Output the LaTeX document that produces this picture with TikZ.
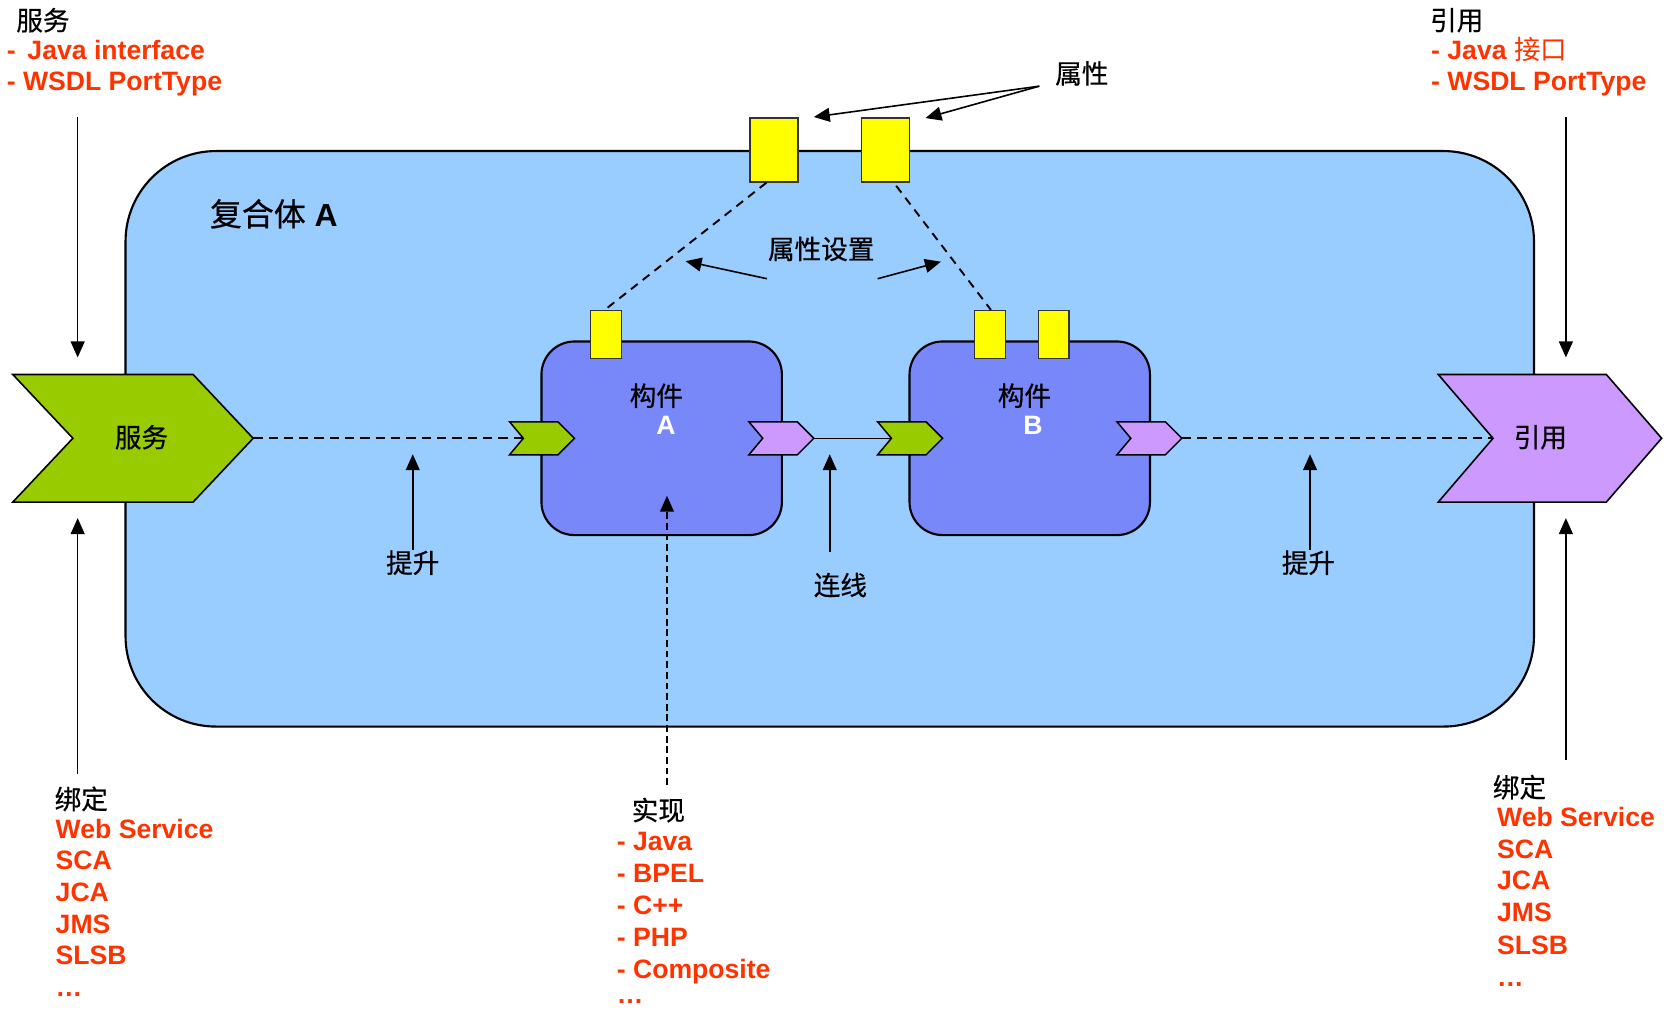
\documentclass[tikz,border=0pt]{standalone}
\usepackage{fontspec}
\setmainfont{Liberation Sans}
\newfontfamily\cjk[FakeBold=0.6]{Noto Sans CJK SC}
\newfontfamily\cjklight{Noto Sans CJK SC}
\usetikzlibrary{arrows.meta,calc}

\definecolor{compositefill}{HTML}{99CCFF}
\definecolor{servicegreen}{HTML}{99CC00}
\definecolor{refpurple}{HTML}{CC99FF}
\definecolor{componentblue}{HTML}{7888F8}
\definecolor{propyellow}{HTML}{FFFF00}
\definecolor{listred}{HTML}{FF3300}

\tikzset{
  port/.pic={
    \path[pic actions] (-31,-15.5) -- (14.5,-15.5) -- (30,0) -- (14.5,15.5)
      -- (-31,15.5) -- (-18,0) -- cycle;
    \coordinate (-tip) at (30,0);
    \coordinate (-notch) at (-18,0);
  },
  zh/.style={inner sep=0pt, font=\cjk\fontsize{12.5}{15}\selectfont},
  redline/.style={anchor=base west, inner sep=0pt, text=listred,
    font=\fontsize{12.5}{15}\selectfont\bfseries},
  arr/.style={line width=0.75pt, -{Triangle[length=7.5pt,width=6.5pt]}},
  chevron/.style={draw, line width=0.75pt},
  bigprop/.style={draw=black!80, line width=0.7pt, fill=propyellow,
    minimum width=22.5pt, minimum height=30pt, inner sep=0pt},
  smallprop/.style={draw=black!80, line width=0.7pt, fill=propyellow,
    minimum width=14.5pt, minimum height=22.5pt, inner sep=0pt},
  component/.style={draw, line width=1pt, fill=componentblue,
    rounded corners=15.5pt, minimum width=113pt, minimum height=91pt, inner sep=0pt},
  promote/.style={line width=1.1pt, dash pattern=on 4.4pt off 2.8pt},
  propset/.style={line width=0.9pt, dash pattern=on 4pt off 3pt},
}

\begin{document}
\begin{tikzpicture}[x=0.5pt, y=-0.5pt]
\useasboundingbox (0,0) rectangle (1568,948.5);

% composite
\node[draw, line width=1pt, fill=compositefill, rounded corners=42.5pt,
  minimum width=662pt, minimum height=270.5pt, inner sep=0pt] (composite) at (780,412.5) {};
\node[anchor=west, inner sep=0pt, font=\fontsize{15}{18}\selectfont] (compositelabel)
  at (197,201) {{\cjk 复合体} \textbf{A}};

% composite service and reference
\draw[chevron, fill=servicegreen] (12,352) -- (181.5,352) -- (238,412) coordinate (svcTip)
  -- (181.5,472) -- (12,472) -- (68.5,412) -- cycle;
\node[zh] (svclabel) at (133,411) {服务};
\draw[chevron, fill=refpurple] (1352,352) -- (1510,352) -- (1562,412)
  -- (1510,472) -- (1352,472) -- (1403.5,412) coordinate (refNotch) -- cycle;
\node[zh] (reflabel) at (1448,411) {引用};

% components
\node[component] (compA) at (622,412) {};
\node[component] (compB) at (968,412) {};
\node[zh] (compAtitle) at (617,372) {构件};
\node[inner sep=0pt, text=white, font=\fontsize{12.5}{15}\selectfont\bfseries] (compAname) at (626,400) {A};
\node[zh] (compBtitle) at (963,372) {构件};
\node[inner sep=0pt, text=white, font=\fontsize{12.5}{15}\selectfont\bfseries] (compBname) at (971,400) {B};

% component ports
\pic[draw, fill=servicegreen, line width=0.7pt] (pAin) at (510,412) {port};
\pic[draw, fill=refpurple, line width=0.7pt] (pAout) at (735,412) {port};
\pic[draw, fill=servicegreen, line width=0.7pt] (pBin) at (856,412) {port};
\pic[draw, fill=refpurple, line width=0.7pt] (pBout) at (1081,412) {port};

% properties
\node[bigprop] (propOne) at (727.5,141) {};
\node[bigprop] (propTwo) at (832.5,141) {};
\node[smallprop] (propA) at (569.5,314.5) {};
\node[smallprop] (propBone) at (930.5,314.5) {};
\node[smallprop] (propBtwo) at (990.5,314.5) {};

% promotes and wire
\draw[promote] (svcTip) -- (pAin-notch);
\draw[line width=0.7pt] (pAout-tip) -- (pBin-notch);
\draw[promote] (pBout-tip) -- (refNotch);

% property settings
\draw[propset] ($(propOne.south)+(-7,0)$) -- ($(propA.north)+(-1,0)$);
\draw[propset] ($(propTwo.south)+(10,3)$) -- ($(propBone.north)+(1,0)$);

% labels in the composite
\node[zh] (propsetlabel) at (772,234) {属性设置};
\coordinate (psL) at (721,262);
\coordinate (psLhead) at (644.5,245.5);
\coordinate (psR) at (825,262);
\coordinate (psRhead) at (884.5,246);
\draw[arr] (psL) -- (psLhead);
\draw[arr] (psR) -- (psRhead);

\node[zh] (proplabel) at (1017,69) {属性};
\coordinate (propFrom) at (977,81);
\coordinate (propHeadOne) at (765,110);
\coordinate (propHeadTwo) at (870,111);
\draw[arr] (propFrom) -- (propHeadOne);
\draw[arr] (propFrom) -- (propHeadTwo);

\node[zh] (promoteL) at (388,529) {提升};
\coordinate (promoteLhead) at (388,427);
\draw[arr] (promoteL.north) -- (promoteLhead);
\node[zh] (promoteR) at (1230,529) {提升};
\coordinate (promoteRhead) at (1231.5,427);
\draw[arr] (promoteR.north -| promoteRhead) -- (promoteRhead);

\node[zh] (wirelabel) at (790,550) {连线};
\coordinate (wireFoot) at (780,519);
\coordinate (wireHead) at (780,427);
\draw[arr] (wireFoot) -- (wireHead);

\coordinate (implFoot) at (627,738);
\coordinate (implHead) at (627,466);
\draw[arr, line width=0.7pt, dash pattern=on 3.2pt off 1.8pt] (implFoot) -- (implHead);

% outer arrows
\coordinate (svcTop) at (73,110);
\coordinate (svcTopHead) at (73,336);
\coordinate (svcBottom) at (73,728);
\coordinate (svcBottomHead) at (73,487);
\draw[arr] (svcTop) -- (svcTopHead);
\draw[arr] (svcBottom) -- (svcBottomHead);
\coordinate (refTop) at (1472,110);
\coordinate (refTopHead) at (1472,336);
\coordinate (refBottom) at (1472,714);
\coordinate (refBottomHead) at (1472,487);
\draw[arr] (refTop) -- (refTopHead);
\draw[arr] (refBottom) -- (refBottomHead);

% service interface
\node[zh, anchor=west] (svcTitle) at (15,19) {服务};
\node[redline] (svcI1) at (6,55.8) {-\, Java interface};
\node[redline] (svcI2) at (6,85.2) {- WSDL PortType};

% reference interface
\node[zh, anchor=west] (refTitle) at (1344,19) {引用};
\node[redline] (refI1) at (1345,55.8) {- Java {\mdseries\cjklight 接口}};
\node[redline] (refI2) at (1345,85.2) {- WSDL PortType};

% service bindings
\node[zh, anchor=west] (svcBind) at (51,751) {绑定};
\node[redline] (sb1) at (52,788) {Web Service};
\node[redline] (sb2) at (52,817.8) {SCA};
\node[redline] (sb3) at (52,847.6) {JCA};
\node[redline] (sb4) at (52,877.4) {JMS};
\node[redline] (sb5) at (52,907) {SLSB};
\node[redline] (sb6) at (52,937) {…};

% reference bindings
\node[zh, anchor=west] (refBind) at (1403,740) {绑定};
\node[redline] (rb1) at (1407,776.5) {Web Service};
\node[redline] (rb2) at (1407,806.9) {SCA};
\node[redline] (rb3) at (1407,836.6) {JCA};
\node[redline] (rb4) at (1407,866.4) {JMS};
\node[redline] (rb5) at (1407,896.8) {SLSB};
\node[redline] (rb6) at (1407,927.5) {…};

% implementations
\node[zh, anchor=west] (implTitle) at (593.5,761.5) {实现};
\node[redline] (im1) at (579.5,799.7) {- Java};
\node[redline] (im2) at (579.5,829.8) {- BPEL};
\node[redline] (im3) at (579.5,860) {- C++};
\node[redline] (im4) at (579.5,889.9) {- PHP};
\node[redline] (im5) at (579.5,919.7) {- Composite};
\node[redline] (im6) at (579.5,943) {…};
\end{tikzpicture}
\end{document}
